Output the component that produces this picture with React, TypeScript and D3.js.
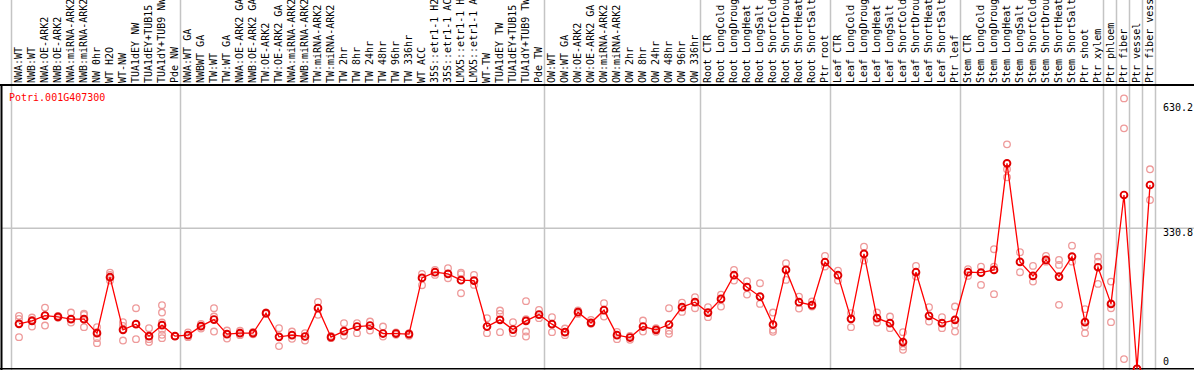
import React from "react";
import * as d3 from "d3";

const title = "Potri.001G407300";

const categories: string[] = [
  "NWA:WT", "NWB:WT", "NWA:OE-ARK2", "NWB:OE-ARK2", "NWA:miRNA-ARK2", "NWB:miRNA-ARK2",
  "NW 0hr", "WT H2O", "WT-NW", "TUA1dEY NW", "TUA1dEY+TUB15 NW", "TUA1dY+TUB9 NW", "Pde NW",
  "NWA:WT GA", "NWBWT GA", "TW:WT", "TW:WT GA", "NWA:OE-ARK2 GA", "NWB:OE-ARK2 GA",
  "TW:OE-ARK2", "TW:OE-ARK2 GA", "NWA:miRNA-ARK2 GA", "NWB:miRNA-ARK2 GA", "TW:miRNA-ARK2",
  "TW:miRNA-ARK2 GA", "TW 2hr", "TW 8hr", "TW 24hr", "TW 48hr", "TW 96hr", "TW 336hr",
  "WT ACC", "35S::etr1-1 H2O", "35S::etr1-1 ACC", "LMX5::etr1-1 H2O", "LMX5::etr1-1 ACC",
  "WT-TW", "TUA1dEY TW", "TUA1dEY+TUB15 TW", "TUA1dY+TUB9 TW", "Pde TW",
  "OW:WT", "OW:WT GA", "OW:OE-ARK2", "OW:OE-ARK2 GA", "OW:miRNA-ARK2", "OW:miRNA-ARK2 GA",
  "OW 2hr", "OW 8hr", "OW 24hr", "OW 48hr", "OW 96hr", "OW 336hr",
  "Root CTR", "Root LongCold", "Root LongDrought", "Root LongHeat", "Root LongSalt",
  "Root ShortCold", "Root ShortDrought", "Root ShortHeat", "Root ShortSalt", "Ptr root",
  "Leaf CTR", "Leaf LongCold", "Leaf LongDrought", "Leaf LongHeat", "Leaf LongSalt",
  "Leaf ShortCold", "Leaf ShortDrought", "Leaf ShortHeat", "Leaf ShortSalt", "Ptr leaf",
  "Stem CTR", "Stem LongCold", "Stem LongDrought", "Stem LongHeat", "Stem LongSalt",
  "Stem ShortCold", "Stem ShortDrought", "Stem ShortHeat", "Stem ShortSalt", "Ptr shoot",
  "Ptr xylem", "Ptr phloem", "Ptr fiber", "Ptr vessel", "Ptr fiber vessel",
];

// group boundaries (column index where a separator line is drawn)
const groupBreaks: number[] = [0, 13, 41, 53, 63, 73, 84, 85, 86, 87, 88];

const means: number[] = [
  105.8, 112.9, 125.3, 122.3, 116.9, 116.9, 83.9, 215.6, 91.7, 105.1, 76.9, 102.8, 76.9,
  79.2, 100.4, 115.9, 81.6, 83.9, 83.9, 131.0, 75.2, 79.2, 76.0, 142.7, 74.5, 88.7, 99.5,
  101.8, 83.0, 83.0, 81.6, 214.0, 227.4, 223.4, 208.6, 207.6, 99.5, 115.2, 92.4, 112.9, 127.7,
  105.1, 86.3, 133.3, 108.2, 138.0, 79.2, 73.6, 99.5, 91.7, 104.2, 145.1, 156.8,
  132.4, 164.6, 220.3, 192.1, 170.0, 104.2, 232.8, 156.8, 149.8, 250.9,
  220.3, 117.6, 270.4, 119.2, 107.5, 62.8, 227.4, 124.6, 107.5, 115.2,
  227.4, 226.4, 232.8, 483.7, 251.6, 218.7, 256.3, 217.0, 264.1, 109.8, 239.1,
  152.8, 409.2, 0, 432.7,
];

const replicates: number[][] = [
  [124.6, 117.6, 74.5], [120.6, 115.2, 99.5], [144.1, 124.6, 101.8], [124.6, 119.9, 122.3],
  [132.4, 108.9, 116.9], [130.0, 127.0, 98.1], [98.1, 86.0, 72.2, 60.4], [226.4, 221.0, 207.6],
  [109.8, 101.1, 66.5], [142.7, 105.1, 69.8], [95.7, 69.8, 62.8],
  [149.8, 132.4, 108.9, 91.7, 80.0, 72.2], [76.9, 76.9],
  [85.4, 74.5], [105.8, 94.8], [142.7, 123.0, 87.7], [90.1, 71.3], [89.4, 79.2], [87.0, 81.1],
  [132.4, 129.3], [95.7, 53.4], [87.7, 70.5], [83.9, 66.5], [157.6, 127.0], [77.6, 72.2],
  [107.5, 77.6], [107.5, 83.9], [111.2, 90.1], [99.5, 76.0], [85.4, 80.0], [83.9, 77.6],
  [223.4, 196.8], [232.8, 221.0], [236.8, 213.3], [226.4, 222.7, 178.0], [221.0, 197.5],
  [119.2, 83.9], [137.1, 129.3, 86.3], [109.8, 83.9], [159.2, 116.9, 87.7, 76.0], [138.7, 119.2],
  [121.6, 86.3], [94.8, 79.2], [137.1, 129.3], [115.2, 105.8], [154.5, 123.0], [87.0, 69.8],
  [77.6, 68.2], [113.6, 87.7], [95.7, 87.0], [142.7, 89.4, 82.3], [155.9, 134.0], [168.6, 142.7],
  [145.1, 121.6], [174.7, 146.5], [232.8, 207.6], [206.2, 174.7], [201.5, 152.8],
  [132.4, 91.7, 87.0], [248.6, 209.3], [170.0, 141.8], [158.3, 146.5], [265.7, 240.6],
  [231.2, 207.6], [131.0, 98.1], [287.6, 254.7], [132.4, 108.9], [123.0, 95.7],
  [86.3, 52.4, 44.7], [242.2, 217.0], [145.1, 111.2], [121.6, 95.7], [146.5, 103.5, 87.7],
  [234.4, 218.7], [240.6, 197.5], [281.5, 240.6, 175.7], [528.4, 469.6, 450.8], [274.4, 227.4],
  [242.2, 205.3], [265.7, 252.3], [256.3, 244.6, 150.5], [289.9, 252.3], [140.4, 99.5, 83.9],
  [264.1, 252.3, 199.9], [205.3, 142.7, 109.8], [636.6, 566.0, 22.8], [0, 0], [469.6, 397.4],
];

const yTicks: number[] = [0, 330.8, 630.2];

const W = 1194;
const H = 370;
const FONT = "'DejaVu Sans Mono', monospace";

export default function App() {
  const n = categories.length;
  const x = d3.scaleLinear().domain([0, n]).range([11.5, 1155.5]);
  const y = d3.scaleLinear().domain([0, 630.2]).range([368.8, 101.1]);
  const px = (i: number) => x(i) + 7.5;

  const line = d3
    .line<number>()
    .x((_, i) => px(i))
    .y((d) => y(d));

  const headerY = 85;
  const tickLabelY: Record<string, number> = { "0": 365, "330.8": 236, "630.2": 111 };

  return (
    <svg
      width={W}
      height={H}
      style={{ position: "absolute", left: 0, top: 0, display: "block", background: "#fff" }}
      fontFamily={FONT}
    >
      <rect x={0} y={0} width={W} height={H} fill="#fff" />
      {/* vertical separators */}
      {groupBreaks.map((b) => (
        <line key={"g" + b} x1={x(b)} x2={x(b)} y1={0} y2={H} stroke="#c4c4c4" strokeWidth={1.5} />
      ))}
      {/* horizontal grid at middle tick */}
      <line x1={2} x2={W} y1={y(330.8)} y2={y(330.8)} stroke="#c4c4c4" strokeWidth={1.5} />
      {/* header separator and borders */}
      <line x1={0} x2={W} y1={headerY} y2={headerY} stroke="#000" strokeWidth={2} />
      <line x1={1.5} x2={1.5} y1={headerY} y2={H} stroke="#000" strokeWidth={2} />
      <line x1={0} x2={W} y1={368.8} y2={368.8} stroke="#000" strokeWidth={1.5} />

      {/* column labels */}
      {categories.map((c, i) => (
        <text
          key={"l" + i}
          transform={`translate(${px(i) + 2.5},83) rotate(-90)`}
          fontSize={10}
          fill="#000"
        >
          {c}
        </text>
      ))}

      {/* title */}
      <text x={9} y={101} fontSize={10} fill="#ff0000">
        {title}
      </text>

      {/* right axis labels */}
      {yTicks.map((t) => (
        <text key={"t" + t} x={1163} y={tickLabelY[String(t)]} fontSize={10} fill="#000">
          {String(t)}
        </text>
      ))}

      {/* replicate points */}
      {replicates.map((reps, i) =>
        reps.map((v, j) => (
          <circle
            key={`r${i}-${j}`}
            cx={px(i)}
            cy={y(v)}
            r={3.3}
            fill="none"
            stroke="#ee9a9a"
            strokeWidth={1.3}
          />
        ))
      )}

      {/* mean line */}
      <path d={line(means) || ""} fill="none" stroke="#ff0000" strokeWidth={1.3} />

      {/* mean markers */}
      {means.map((v, i) => (
        <circle
          key={"m" + i}
          cx={px(i)}
          cy={y(v)}
          r={3.4}
          fill="none"
          stroke="#e00000"
          strokeWidth={1.9}
        />
      ))}
    </svg>
  );
}
